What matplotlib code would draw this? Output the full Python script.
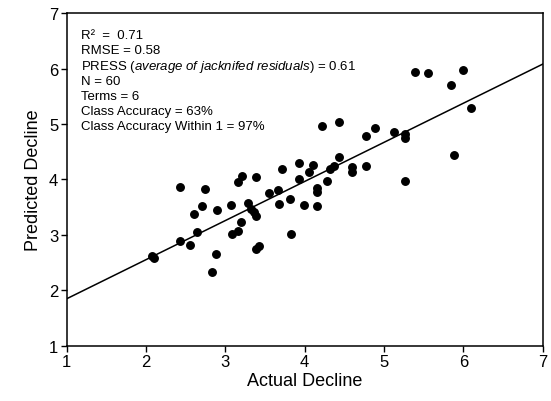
import numpy as np
import matplotlib.pyplot as plt

plt.rcParams['font.family'] = ['Liberation Sans', 'DejaVu Sans']
plt.rcParams['mathtext.fontset'] = 'custom'
plt.rcParams['mathtext.rm'] = 'Liberation Sans'
plt.rcParams['mathtext.it'] = 'Liberation Sans:italic'

# actual vs predicted decline
actual = [2.43, 2.74, 2.71, 2.60, 2.89, 3.07, 3.16, 3.21, 3.38, 3.28,
          3.32, 3.36, 3.38, 3.20, 3.16, 3.09, 2.64, 2.43, 2.55, 2.07,
          2.10, 2.88, 2.83, 3.38, 3.43, 3.83, 3.55, 3.66, 3.67, 3.82,
          3.71, 3.93, 4.10, 4.05, 3.93, 3.99, 4.15, 4.16, 4.16, 4.28,
          4.32, 4.37, 4.43, 4.60, 4.60, 4.77, 4.77, 4.89, 5.13, 5.27,
          5.27, 5.27, 4.22, 4.43, 5.39, 5.56, 5.99, 5.85, 6.10, 5.88]
predicted = [3.86, 3.82, 3.52, 3.37, 3.45, 3.54, 3.96, 4.06, 4.05, 3.57,
             3.47, 3.41, 3.34, 3.23, 3.07, 3.02, 3.06, 2.90, 2.82, 2.63,
             2.59, 2.65, 2.34, 2.75, 2.80, 3.01, 3.75, 3.81, 3.55, 3.65,
             4.19, 4.29, 4.27, 4.13, 4.01, 3.54, 3.84, 3.77, 3.53, 3.98,
             4.19, 4.24, 4.41, 4.22, 4.14, 4.25, 4.78, 4.93, 4.85, 4.82,
             4.75, 3.98, 4.96, 5.03, 5.94, 5.92, 5.98, 5.70, 5.29, 4.45]

# regression line end points
fit_x = [1, 7]
fit_y = [1.85, 6.08]

stats = [
    'R\u00b2  =  0.71',
    'RMSE = 0.58',
    r'PRESS ($\mathit{average\ of\ jacknifed\ residuals}$) = 0.61',
    'N = 60',
    'Terms = 6',
    'Class Accuracy = 63%',
    'Class Accuracy Within 1 = 97%',
]

fig = plt.figure(figsize=(5.51, 4.02), dpi=100)
ax = fig.add_axes([0.121, 0.137, 0.864, 0.828])

ax.plot(fit_x, fit_y, color='black', linewidth=1.1)
ax.plot(actual, predicted, 'o', color='black', markersize=5.4)

ax.set_xlim(1, 7)
ax.set_ylim(1, 7)
ax.set_xticks(range(1, 8))
ax.set_yticks(range(1, 8))
ax.tick_params(direction='out', length=4, width=1, labelsize=12, pad=2)
for s in ax.spines.values():
    s.set_linewidth(1.1)

ax.set_xlabel('Actual Decline', fontsize=13, labelpad=2)
ax.set_ylabel('Predicted Decline', fontsize=13, labelpad=5)

for i, line in enumerate(stats):
    ax.text(0.031, 0.924 - i * 0.0453, line, transform=ax.transAxes,
            fontsize=9.5, va='baseline', ha='left')

fig.savefig('out.png', dpi=100)
